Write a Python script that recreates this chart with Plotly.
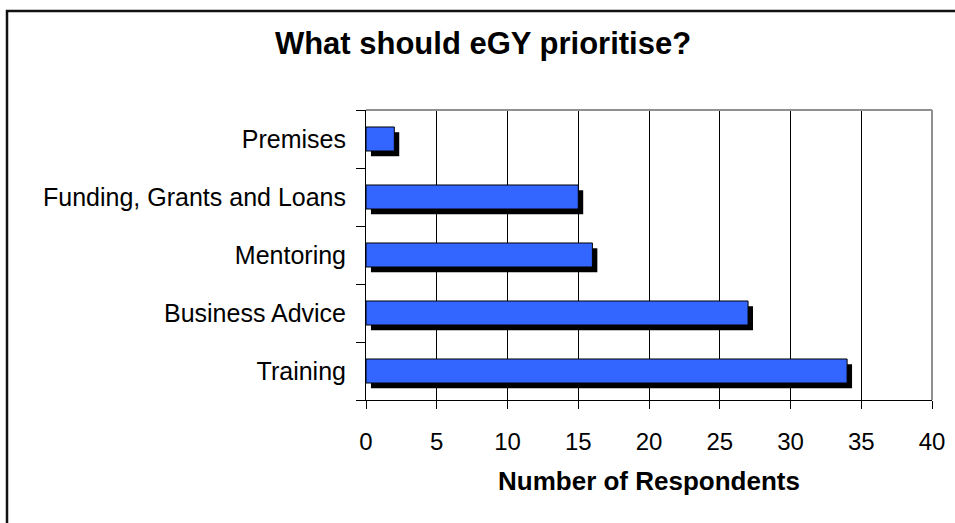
import plotly.graph_objects as go

# Survey responses: what should eGY prioritise (bottom to top)
categories = ["Training", "Business Advice", "Mentoring",
              "Funding, Grants and Loans", "Premises"]
respondents = [34, 27, 16, 15, 2]
x_ticks = [0, 5, 10, 15, 20, 25, 30, 35, 40]

W, H = 955, 523
BAR_FILL = "#3366FF"
FONT = "Liberation Sans, Arial, sans-serif"

# plot area in pixels
px_left, px_right, px_top, px_bottom = 366, 932, 110, 400
x_dom = [px_left / W, px_right / W]
y_dom = [1 - px_bottom / H, 1 - px_top / H]

bar_w = 0.414
shadow_dx = 0.35     # shadow shift along value axis (units)
shadow_dy = 0.09     # shadow shift downward (category units)

fig = go.Figure()

# drop shadow drawn first, underneath the bars
fig.add_trace(go.Bar(
    y=categories, x=respondents, orientation="h",
    base=shadow_dx, width=bar_w, offset=-bar_w / 2 - shadow_dy,
    marker=dict(color="black", line=dict(width=0)),
    hoverinfo="skip", showlegend=False,
))
fig.add_trace(go.Bar(
    y=categories, x=respondents, orientation="h",
    width=bar_w, offset=-bar_w / 2,
    marker=dict(color=BAR_FILL, line=dict(color="black", width=1)),
    showlegend=False,
))

fig.update_layout(
    width=W, height=H,
    margin=dict(l=0, r=0, t=0, b=0, autoexpand=False),
    paper_bgcolor="white", plot_bgcolor="white",
    barmode="overlay",
    font=dict(family=FONT, color="black"),
    title=dict(text="<b>What should eGY prioritise?</b>",
               font=dict(size=31, family=FONT, color="black"),
               x=483 / W, xanchor="center", y=1 - 43 / H, yanchor="middle",
               automargin=False),
    xaxis=dict(
        domain=x_dom, range=[0, 40], tickvals=x_ticks,
        automargin=False,
        showgrid=True, gridcolor="black", gridwidth=1,
        showline=True, linecolor="black", linewidth=1,
        ticks="outside", ticklen=8, tickcolor="black", tickwidth=1,
        tickfont=dict(size=24, family=FONT, color="black"),
        ticklabelstandoff=12,
        zeroline=False,
        title=dict(text="<b>Number of Respondents</b>",
                   font=dict(size=26, family=FONT, color="black"),
                   standoff=18),
    ),
    yaxis=dict(
        domain=y_dom, type="category", categoryorder="array",
        categoryarray=categories, range=[-0.5, len(categories) - 0.5],
        automargin=False,
        showgrid=False, showline=True, linecolor="black", linewidth=1,
        ticks="outside", tickson="boundaries", ticklen=9,
        tickcolor="black", tickwidth=1,
        tickfont=dict(size=25, family=FONT, color="black"),
        ticklabelstandoff=14,
        zeroline=False,
    ),
    shapes=[
        # grey top and right edges of the plot frame
        dict(type="line", xref="x domain", yref="y domain",
             x0=0, x1=1, y0=1, y1=1, line=dict(color="#909090", width=2)),
        dict(type="line", xref="x domain", yref="y domain",
             x0=1, x1=1, y0=0, y1=1, line=dict(color="#909090", width=2)),
        # outer chart border
        dict(type="rect", xref="paper", yref="paper", layer="above",
             x0=7 / W, x1=1.05, y0=-0.05, y1=1 - 11 / H,
             line=dict(color="#111111", width=2.5)),
    ],
)

fig.write_html("out.html")
